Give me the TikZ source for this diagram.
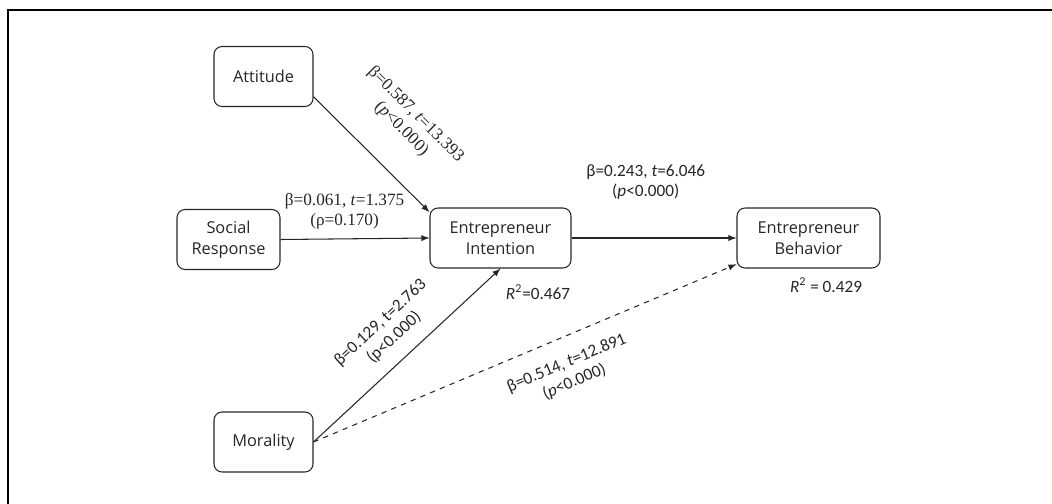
\documentclass[tikz,border=0pt]{standalone}
\usepackage{fontspec}
\setmainfont{Carlito}
\newfontfamily\boxfont{Open Sans}
\newfontfamily\serfont{Liberation Serif}
\usetikzlibrary{positioning}

\begin{document}
\begin{tikzpicture}[
                            x=0.02cm, y=-0.02cm,
                            >=latex,
                            line width=0.6pt,
                            box/.style={rectangle, draw=black!85, rounded corners=0.16cm,
                              minimum height=1.2cm, minimum width=1.98cm, align=center,
                              text=black!85, font=\boxfont\fontsize{9.3}{12}\selectfont},
                            coef/.style={align=center, inner sep=1pt, text=black!85,
                              font=\fontsize{9.8}{11.5}\selectfont},
                            coefser/.style={coef, font=\serfont\fontsize{9.8}{11.5}\selectfont}
                        ]
                        \useasboundingbox (0,0) rectangle (1052,504);
                        % Frame
                        \draw [line width=0.8pt] (1052,10) -- (8,10) -- (8,504);

                        % Blocks
                        \node [box] (ATT) at (263.5,76.5) {Attitude};
                        \node [box, minimum width=2.06cm] (SR) at (228.5,239.5) {Social\\Response};
                        \node [box, minimum width=2.82cm] (EI) at (500.5,238) {Entrepreneur\\Intention};
                        \node [box, minimum width=2.86cm] (EB) at (808.5,238) {Entrepreneur\\Behavior};
                        \node [box] (MOR) at (263.5,442) {Morality};
                        \node [coef] (R2EI) at (538,292) {\textit{R}\textsuperscript{2}=0.467};
                        \node [coef] (R2EB) at (826,285) {\textit{R}\textsuperscript{2} = 0.429};

                        % Connections
                        \draw [->, black!85] (ATT.-22) --node[coefser, sloped, above=0.58cm, pos=0.52] (cATT) {β=0.587, \textit{t}=13.393\\(\textit{p}<0.000)} (EI.160);
                        \draw [->, black!85] (SR.east) --node[coefser, above=0.14cm, pos=0.43] (cSR) {β=0.061, \textit{t}=1.375\\(ρ=0.170)} (EI.west);
                        \draw [->, black!85] (EI.east) --node[coef, above=0.72cm, pos=0.45] (cEI) {β=0.243, \textit{t}=6.046\\(\textit{p}<0.000)} (EB.west);
                        \draw [->, black!85] (MOR.east) --node[coef, sloped, above=0.24cm, pos=0.51] (cMOR) {β=0.129, t=2.763\\(p<0.000)} (EI.south);
                        \draw [->, dashed, black!85] (MOR.east) --node[coef, sloped, below=0.32cm, pos=0.575] (cMEB) {β=0.514, \textit{t}=12.891\\(\textit{p}<0.000)} (EB.200);
                    \end{tikzpicture}
\end{document}
